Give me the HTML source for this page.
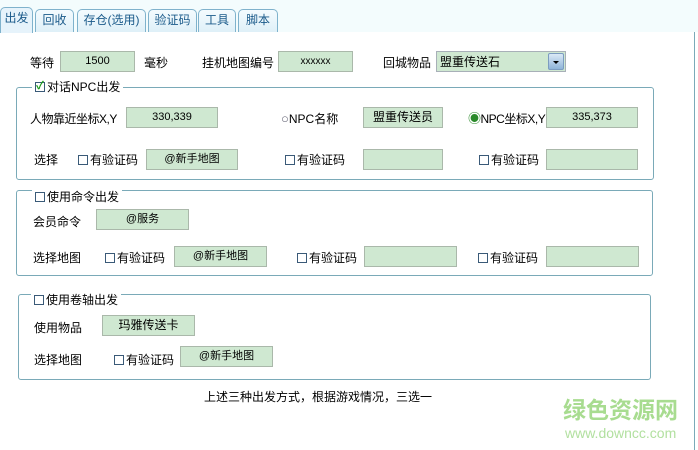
<!DOCTYPE html>
<html><head><meta charset="utf-8"><style>
*{box-sizing:border-box;margin:0;padding:0}
body{width:698px;height:450px;overflow:hidden;background:#fff;position:relative;font-family:"Liberation Sans","Noto Sans CJK SC",sans-serif;font-size:12px;color:#000}
.a{position:absolute;white-space:nowrap;line-height:14px;font-size:12px !important}
.top{position:absolute;left:0;top:0;width:698px;height:32px;background:#f3fcfd}
.tab{position:absolute;top:9px;height:23px;border:1px solid #7fb2cc;border-bottom:none;border-radius:5px 5px 0 0;background:linear-gradient(#f4fbfe,#dff0f8);color:#1a5a8a;font-size:12px;line-height:21px;text-align:center}
.tab.sel{background:#e6f3fb;top:7px;height:26px}
.in{position:absolute;height:21px;background:#cfe8d1;border:1px solid #aab8aa;text-align:center;line-height:19px;font-size:11px}
.g{position:absolute;border:1px solid #7aaab8;border-radius:3px}
.leg{position:absolute;background:#fff;padding:0 3px;line-height:14px;white-space:nowrap;font-size:12px}
.cb{display:inline-block;width:10px;height:10px;border:1px solid #3a5a78;vertical-align:-1px;margin-right:2px;background:#fff}
</style></head><body>
<div class="top"></div>
<div class="tab sel" style="left:0;width:33px">出发</div>
<div class="tab" style="left:35px;width:39px">回收</div>
<div class="tab" style="left:77px;width:69px">存仓(选用)</div>
<div class="tab" style="left:148px;width:49px">验证码</div>
<div class="tab" style="left:198px;width:38px">工具</div>
<div class="tab" style="left:238px;width:40px">脚本</div>
<div style="position:absolute;left:694px;top:32px;width:1px;height:418px;background:#7aaab8"></div>

<div class="a" style="left:30px;top:56px">等待</div>
<div class="in" style="left:60px;top:51px;width:75px">1500</div>
<div class="a" style="left:144px;top:56px">毫秒</div>
<div class="a" style="left:202px;top:56px">挂机地图编号</div>
<div class="in" style="left:278px;top:51px;width:75px;font-size:10px">xxxxxx</div>
<div class="a" style="left:383px;top:56px">回城物品</div>
<div style="position:absolute;left:436px;top:51px;width:130px;height:21px;border:1px solid #a8b0b8;background:#cfe8d1"></div>
<div class="a" style="left:440px;top:55px">盟重传送石</div>
<div style="position:absolute;left:548px;top:53px;width:16px;height:17px;border-radius:2px;background:linear-gradient(#dbe9f6,#8fb4d8);border:1px solid #7c9cc0"></div>
<div style="position:absolute;left:553px;top:61px;width:0;height:0;border-left:3px solid transparent;border-right:3px solid transparent;border-top:3px solid #000"></div>

<div class="g" style="left:16px;top:87px;width:638px;height:93px"></div>
<div class="leg" style="left:32px;top:80px"><span class="cb" style="position:relative"><span style="position:absolute;left:0;top:-4px;color:#1a9a1a;font-size:11px;font-weight:bold">✓</span></span>对话NPC出发</div>
<div class="a" style="left:30px;top:112px;letter-spacing:-0.5px">人物靠近坐标X,Y</div>
<div class="in" style="left:126px;top:107px;width:92px">330,339</div>
<div class="a" style="left:281px;top:112px"><span style="color:#667;font-size:13px">○</span>NPC名称</div>
<div class="in" style="left:363px;top:107px;width:80px;font-size:12px">盟重传送员</div>
<div class="a" style="left:468px;top:112px;letter-spacing:-0.5px"><span style="color:#2a8a2a;font-size:13px">◉</span>NPC坐标X,Y</div>
<div class="in" style="left:546px;top:107px;width:92px">335,373</div>

<div class="a" style="left:34px;top:153px">选择</div>
<div class="a" style="left:78px;top:153px"><span class="cb"></span>有验证码</div>
<div class="in" style="left:146px;top:149px;width:92px">@新手地图</div>
<div class="a" style="left:285px;top:153px"><span class="cb"></span>有验证码</div>
<div class="in" style="left:363px;top:149px;width:80px"></div>
<div class="a" style="left:479px;top:153px"><span class="cb"></span>有验证码</div>
<div class="in" style="left:546px;top:149px;width:92px"></div>

<div class="g" style="left:16px;top:190px;width:637px;height:86px"></div>
<div class="leg" style="left:32px;top:190px"><span class="cb"></span>使用命令出发</div>
<div class="a" style="left:33px;top:215px">会员命令</div>
<div class="in" style="left:96px;top:209px;width:93px">@服务</div>
<div class="a" style="left:33px;top:251px">选择地图</div>
<div class="a" style="left:105px;top:251px"><span class="cb"></span>有验证码</div>
<div class="in" style="left:174px;top:246px;width:93px">@新手地图</div>
<div class="a" style="left:297px;top:251px"><span class="cb"></span>有验证码</div>
<div class="in" style="left:364px;top:246px;width:93px"></div>
<div class="a" style="left:478px;top:251px"><span class="cb"></span>有验证码</div>
<div class="in" style="left:546px;top:246px;width:93px"></div>

<div class="g" style="left:18px;top:294px;width:633px;height:86px"></div>
<div class="leg" style="left:31px;top:293px"><span class="cb"></span>使用卷轴出发</div>
<div class="a" style="left:34px;top:321px">使用物品</div>
<div class="in" style="left:102px;top:315px;width:93px;font-size:12px">玛雅传送卡</div>
<div class="a" style="left:34px;top:353px">选择地图</div>
<div class="a" style="left:114px;top:353px"><span class="cb"></span>有验证码</div>
<div class="in" style="left:180px;top:346px;width:93px">@新手地图</div>

<div class="a" style="left:204px;top:390px">上述三种出发方式，根据游戏情况，三选一</div>
<div style="position:absolute;left:563px;top:397px;font-size:23px;line-height:26px;font-weight:bold;color:#a8dc90;white-space:nowrap">绿色资源网</div>
<div style="position:absolute;left:565px;top:425px;font-size:14px;line-height:16px;color:#b2e0a0;white-space:nowrap">www.downcc.com</div>
</body></html>
